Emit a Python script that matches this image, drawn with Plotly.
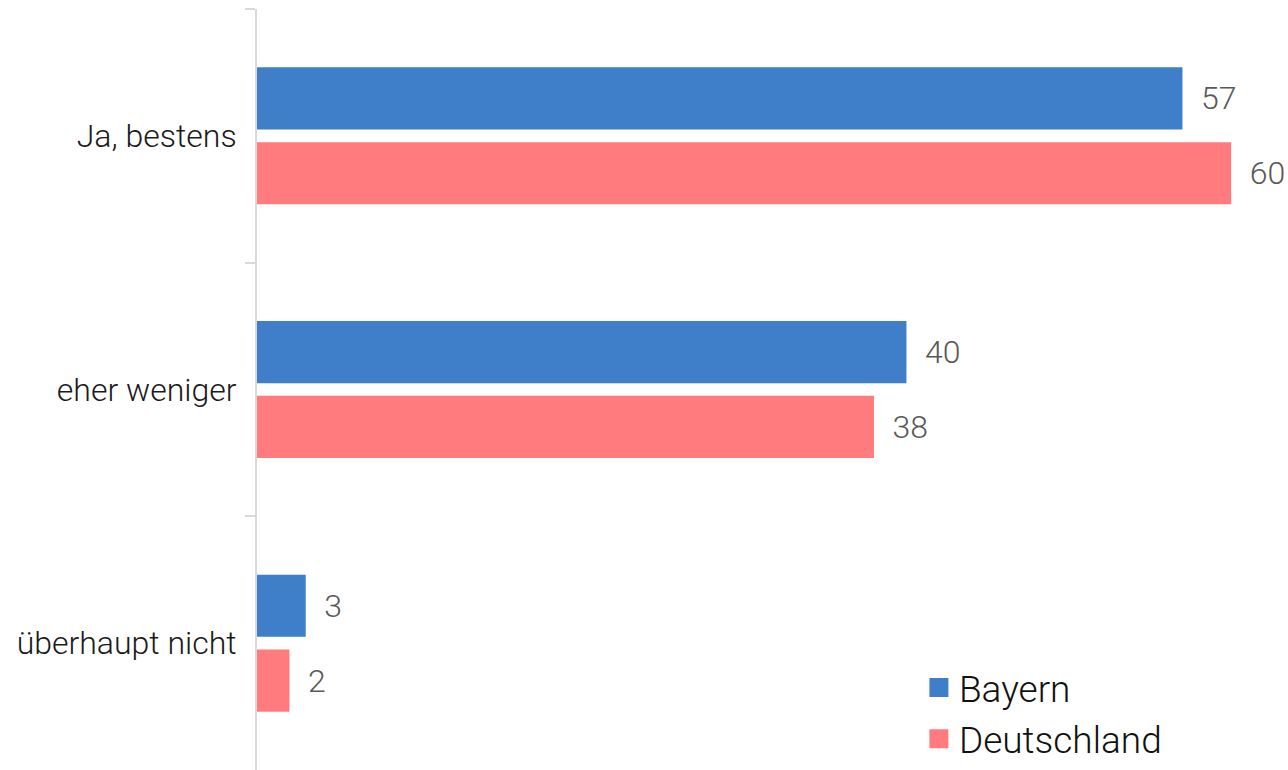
import plotly.graph_objects as go

# Survey answers (top to bottom) and percentages per region
categories = ["Ja, bestens", "eher weniger", "überhaupt nicht"]
series_names = ["Bayern", "Deutschland"]
bayern = [57, 40, 3]
deutschland = [60, 38, 2]

BLUE = "#3F7EC8"
SALMON = "#FF7B7D"
FONT = "Roboto"
PAD = "\u00a0\u00a0"  # small gap between bar end and value label

fig = go.Figure()
for name, vals, color in zip(series_names, [bayern, deutschland], [BLUE, SALMON]):
    fig.add_trace(go.Bar(
        name=name,
        y=categories,
        x=vals,
        orientation="h",
        marker=dict(color=color, line=dict(width=0)),
        text=[PAD + str(v) for v in vals],
        textposition="outside",
        textfont=dict(family=FONT, size=32, color="#595959", weight=300),
        cliponaxis=False,
        showlegend=False,
    ))

# Legend entries with larger square swatches
for name, color in zip(series_names, [BLUE, SALMON]):
    fig.add_trace(go.Scatter(
        name=name,
        x=[None],
        y=[None],
        mode="markers",
        marker=dict(symbol="square", size=16, color=color,
                    line=dict(color=color, width=3)),
        legendgroup=name,
        showlegend=True,
    ))

fig.update_layout(
    width=1288,
    height=770,
    margin=dict(l=257, r=0, t=9, b=0),
    paper_bgcolor="white",
    plot_bgcolor="white",
    barmode="group",
    bargap=0.41,
    bargroupgap=0.17,
    font=dict(family=FONT, color="#1a1a1a"),
    showlegend=True,
    legend=dict(
        x=0.642, y=0.0, xanchor="left", yanchor="bottom",
        font=dict(family=FONT, size=37, color="#111111", weight=300),
        traceorder="normal",
        tracegroupgap=9,
        itemwidth=30,
        bgcolor="rgba(0,0,0,0)",
    ),
    xaxis=dict(
        range=[0, 63.5],
        showgrid=False,
        zeroline=False,
        showticklabels=False,
        showline=False,
        ticks="",
    ),
    yaxis=dict(
        categoryorder="array",
        categoryarray=categories,
        autorange="reversed",
        showgrid=False,
        zeroline=False,
        showline=True,
        linecolor="#D9D9D9",
        linewidth=2,
        ticks="outside",
        tickson="boundaries",
        ticklen=10,
        tickcolor="#D9D9D9",
        tickwidth=2,
        ticklabelstandoff=12,
        tickfont=dict(family=FONT, size=32, color="#1a1a1a", weight=300),
    ),
)

fig.write_html("out.html")
